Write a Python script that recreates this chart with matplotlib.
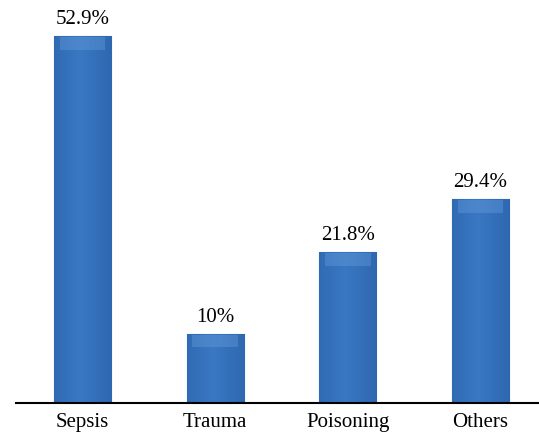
import matplotlib.pyplot as plt
import numpy as np
from matplotlib.colors import LinearSegmentedColormap

categories = ["Sepsis", "Trauma", "Poisoning", "Others"]
values = [52.9, 10, 21.8, 29.4]
labels = ["52.9%", "10%", "21.8%", "29.4%"]

plt.rcParams['font.family'] = ['Liberation Serif', 'DejaVu Serif']

fig = plt.figure(figsize=(5.39, 4.32), dpi=100)
ax = fig.add_axes([16 / 539, (432 - 403) / 432, 1 - 16 / 539, 403 / 432])

x = np.arange(len(categories))
bars = ax.bar(x, values, width=0.43, color='#2f6cb8', edgecolor='#2a5a98', linewidth=0.8, zorder=2)

# bevel-ish shading: horizontal gradient clipped to each bar
grad = np.linspace(0, 1, 64)
shade = 1 - 0.5 * np.abs(grad - 0.45) * 2
img = np.tile(shade, (8, 1))
cmap = LinearSegmentedColormap.from_list('b', ['#245a9f', '#3a78c4'])
for b in bars:
    x0, w, h = b.get_x(), b.get_width(), b.get_height()
    im = ax.imshow(img, extent=[x0, x0 + w, 0, h], cmap=cmap, aspect='auto', zorder=3, vmin=0, vmax=1)
    im.set_clip_path(b)
    ax.fill_between([x0 + w * 0.1, x0 + w * 0.9], h - 2.0, h - 0.2, color='#6ea2de', alpha=0.35, zorder=4, linewidth=0)

for xi, v, t in zip(x, values, labels):
    ax.annotate(t, (xi, v), xytext=(0, 5), textcoords='offset points', ha='center', va='bottom', fontsize=15)

ax.set_xlim(-0.5, 3.44)
ax.set_ylim(0, 403 / 6.94)
ax.set_xticks(x)
ax.set_xticklabels(categories, fontsize=15)
ax.tick_params(axis='x', length=0, pad=7)
ax.set_yticks([])
for s in ['top', 'right', 'left']:
    ax.spines[s].set_visible(False)
ax.spines['bottom'].set_linewidth(1.5)
ax.spines['bottom'].set_zorder(5)

fig.savefig('out.png', dpi=100)
